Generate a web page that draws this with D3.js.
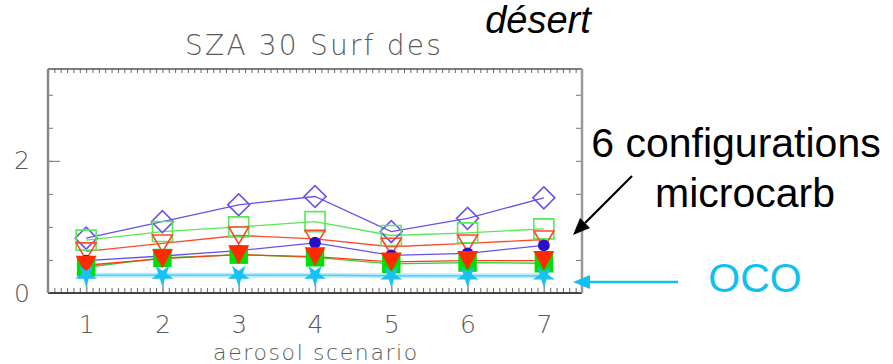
<!DOCTYPE html>
<html>
<head>
<meta charset="utf-8">
<script src="https://cdn.jsdelivr.net/npm/d3@7"></script>
<style>
  body { margin: 0; background: #fff; }
  .idl { font-family: "DejaVu Sans", sans-serif; font-weight: 200; fill: #5a5a5a; }
  .note { font-family: "Liberation Sans", Arial, sans-serif; }
</style>
</head>
<body>
<div id="chart"></div>
<script>
/* DATA */
const scenarios = [1, 2, 3, 4, 5, 6, 7];
const openDiamond  = [0.83, 1.08, 1.335, 1.46, 0.93, 1.13, 1.44];
const openSquare   = [0.80, 0.93, 1.00, 1.08, 0.87, 0.91, 0.97];
const openTriangle = [0.63, 0.75, 0.87, 0.82, 0.70, 0.75, 0.81];
const filledCircle = [0.49, 0.56, 0.64, 0.76, 0.57, 0.60, 0.72];
const filledSquare = [0.39, 0.53, 0.58, 0.54, 0.44, 0.46, 0.45];
const filledTriangle = [0.42, 0.52, 0.58, 0.55, 0.47, 0.49, 0.49];
const ocoStar      = [0.27, 0.27, 0.27, 0.27, 0.26, 0.26, 0.26];
const yTickLabels = [0, 2];

/* CONSTANTS */
const width = 893, height = 364;
const margin = { top: 69, left: 48, right: 311, bottom: 71 };

const svg = d3.select("#chart").append("svg")
  .attr("width", width)
  .attr("height", height);

const xScale = d3.scaleLinear()
  .domain([0.5, 7.5])
  .range([margin.left, width - margin.right]);

const yScale = d3.scaleLinear()
  .domain([0, 3.39])
  .range([height - margin.bottom, margin.top]);

const x0 = xScale.range()[0], x1 = xScale.range()[1];
const yb = yScale.range()[0], yt = yScale.range()[1];

// minor tick positions
const xMinor = d3.range(0, 85).map(i => 0.5 + i / 12);
const yMinor = d3.range(0, 7).map(i => i * 0.5);

// bottom axis, ticks pointing in
svg.append("g").attr("transform", `translate(0,${yb})`)
  .call(d3.axisBottom(xScale).tickValues(xMinor).tickSize(-5).tickFormat(""))
  .call(g => g.select(".domain").remove())
  .call(g => g.selectAll("line").attr("stroke", "#666"));
svg.append("g").attr("class", "idl").attr("transform", `translate(0,${yb})`)
  .call(d3.axisBottom(xScale).tickValues(scenarios).tickSize(-13).tickPadding(22).tickFormat(d3.format("d")))
  .call(g => g.select(".domain").remove())
  .call(g => g.selectAll("line").attr("stroke", "#999").attr("stroke-width", 1.5))
  .call(g => g.selectAll("text").attr("class", "idl").style("font-size", "25px").attr("fill", "#5a5a5a"));

// top axis
svg.append("g").attr("transform", `translate(0,${yt})`)
  .call(d3.axisTop(xScale).tickValues(xMinor).tickSize(-4).tickFormat(""))
  .call(g => g.select(".domain").remove())
  .call(g => g.selectAll("line").attr("stroke", "#666"));

// left axis
svg.append("g").attr("transform", `translate(${x0},0)`)
  .call(d3.axisLeft(yScale).tickValues(yMinor).tickSize(-5).tickFormat(""))
  .call(g => g.select(".domain").remove())
  .call(g => g.selectAll("line").attr("stroke", "#777"));
svg.append("g").attr("transform", `translate(${x0},0)`)
  .call(d3.axisLeft(yScale).tickValues(yTickLabels).tickSize(-12).tickPadding(18).tickFormat(d3.format("d")))
  .call(g => g.select(".domain").remove())
  .call(g => g.selectAll("line").attr("stroke", "#777"))
  .call(g => g.selectAll("text").attr("class", "idl").style("font-size", "25px").attr("fill", "#5a5a5a"));

// right axis
svg.append("g").attr("transform", `translate(${x1},0)`)
  .call(d3.axisRight(yScale).tickValues(yMinor).tickSize(-6).tickFormat(""))
  .call(g => g.select(".domain").remove())
  .call(g => g.selectAll("line").attr("stroke", "#777"));

// box
svg.append("line").attr("x1", x0).attr("x2", x1).attr("y1", yb).attr("y2", yb).attr("stroke", "#444").attr("stroke-width", 2);
svg.append("line").attr("x1", x0).attr("x2", x1).attr("y1", yt).attr("y2", yt).attr("stroke", "#555").attr("stroke-width", 1.5);
svg.append("line").attr("x1", x0).attr("x2", x0).attr("y1", yt).attr("y2", yb).attr("stroke", "#888").attr("stroke-width", 2.5);
svg.append("line").attr("x1", x1).attr("x2", x1).attr("y1", yt).attr("y2", yb).attr("stroke", "#999").attr("stroke-width", 2.5);

// symbol shapes
const triDown = (w, h) => `M${-w/2},${-h/2}L${w/2},${-h/2}L0,${h/2}Z`;
const sym = {
  diamond: d3.symbol(d3.symbolSquare, 240)(),
  square: d3.symbol(d3.symbolSquare, 400)(),
  fsquare: d3.symbol(d3.symbolSquare, 340)(),
  circle: d3.symbol(d3.symbolCircle, 110)(),
  star: d3.symbol(d3.symbolStar, 150)()
};

const line = d3.line().x((d, i) => xScale(scenarios[i])).y(d => yScale(d));

const series = [
  { values: openDiamond, color: "#6b50e8", path: sym.diamond, rot: 45, fill: "none" },
  { values: openSquare, color: "#58e858", path: sym.square, rot: 0, fill: "none" },
  { values: openTriangle, color: "#ff4a2a", path: triDown(20, 17), rot: 0, fill: "none" },
  { values: filledCircle, color: "#6b50e8", path: sym.circle, rot: 0, fill: "#2a10c4" },
  { values: filledSquare, color: "#30d030", path: sym.fsquare, rot: 0, fill: "#00e000" },
  { values: filledTriangle, color: "#ff3a1a", path: triDown(21, 19), rot: 0, fill: "#ff2a00" }
];

// OCO band first
svg.append("path").datum(ocoStar).attr("d", line)
  .attr("fill", "none").attr("stroke", "#b8edff").attr("stroke-width", 5);
svg.append("path").datum(ocoStar).attr("d", line)
  .attr("fill", "none").attr("stroke", "#3ccaf6").attr("stroke-width", 1.2);

series.forEach(s => {
  svg.append("path").datum(s.values).attr("d", line)
    .attr("fill", "none").attr("stroke", s.color).attr("stroke-width", 1.3);
});
series.forEach(s => {
  svg.selectAll(null).data(s.values).join("path")
    .attr("d", s.path)
    .attr("transform", (d, i) => `translate(${xScale(scenarios[i])},${yScale(d)}) rotate(${s.rot})`)
    .attr("fill", s.fill)
    .attr("stroke", s.fill === "none" ? s.color : "none")
    .attr("stroke-width", 1.6);
});
svg.selectAll(null).data(ocoStar).join("path")
  .attr("d", sym.star)
  .attr("transform", (d, i) => `translate(${xScale(scenarios[i])},${yScale(d)}) rotate(180)`)
  .attr("fill", "#18c2f2");

// titles
svg.append("text").attr("class", "idl")
  .attr("x", 314).attr("y", 55).attr("text-anchor", "middle")
  .style("font-size", "28px").style("letter-spacing", "2.2px").text("SZA 30 Surf des");
svg.append("text").attr("class", "idl")
  .attr("x", 316).attr("y", 360).attr("text-anchor", "middle")
  .style("font-size", "22px").style("letter-spacing", "1.6px").text("aerosol scenario");

svg.append("text").attr("class", "note")
  .attr("x", 538).attr("y", 33).attr("text-anchor", "middle")
  .style("font-size", "38px").style("font-style", "italic").attr("fill", "#000")
  .text("désert");

svg.append("text").attr("class", "note")
  .attr("x", 736).attr("y", 157).attr("text-anchor", "middle")
  .style("font-size", "41px").attr("fill", "#000").text("6 configurations");
svg.append("text").attr("class", "note")
  .attr("x", 745).attr("y", 207).attr("text-anchor", "middle")
  .style("font-size", "41px").attr("fill", "#000").text("microcarb");
svg.append("text").attr("class", "note")
  .attr("x", 755).attr("y", 292).attr("text-anchor", "middle")
  .style("font-size", "41px").attr("fill", "#10c0f0").text("OCO");

// arrows
function arrow(xa, ya, xb, yb2, color, w) {
  const ang = Math.atan2(yb2 - ya, xb - xa);
  const L = 17, H = 7;
  const bx = xb - L * Math.cos(ang), by = yb2 - L * Math.sin(ang);
  svg.append("line").attr("x1", xa).attr("y1", ya).attr("x2", bx).attr("y2", by)
    .attr("stroke", color).attr("stroke-width", w);
  const px = -Math.sin(ang) * H, py = Math.cos(ang) * H;
  svg.append("path")
    .attr("d", `M${xb},${yb2}L${bx + px},${by + py}L${bx - px},${by - py}Z`)
    .attr("fill", color);
}
arrow(632, 176, 573, 235, "#000", 2.2);
arrow(678, 282, 573, 282, "#10c0f0", 2.6);
</script>
</body>
</html>
